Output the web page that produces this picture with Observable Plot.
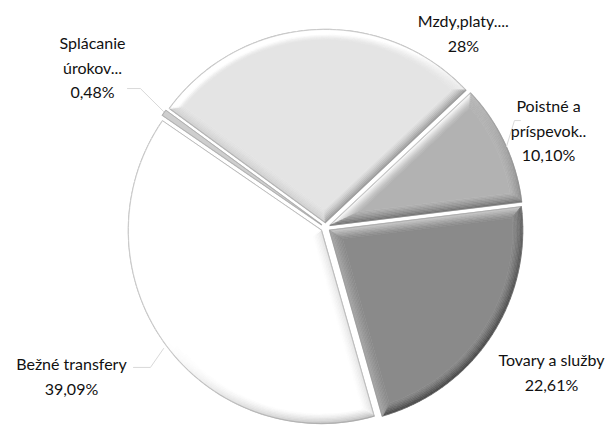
<!DOCTYPE html>
<html>
<head>
<meta charset="utf-8">
<script src="https://cdn.jsdelivr.net/npm/d3@7"></script>
<script src="https://cdn.jsdelivr.net/npm/@observablehq/plot@0.6"></script>
<style>
  body { margin: 0; background: #ffffff; }
  #chart svg { display: block; }
</style>
</head>
<body>
<div id="chart"></div>
<script>
// ---- data ----
const categories = ["Tovary a služby", "Bežné transfery", "Splácanie úrokov...", "Mzdy,platy....", "Poistné a príspevok.."];
const values = [22.61, 39.09, 0.48, 28, 10.10];
const labelTexts = ["Tovary a služby\n22,61%", "Bežné transfery\n39,09%", "Splácanie\núrokov...\n0,48%", "Mzdy,platy....\n28%", "Poistné a\npríspevok..\n10,10%"];
// label placement (bearing in degrees, distance in pie radii)
const labelBearing = [122.3, 240.0, 304.8, 35.1, 66.1];
const labelDist = [1.385, 1.52, 1.47, 1.242, 1.264];
// base gray level of each slice
const grays = [138, 255, 206, 228, 178];
const START_DEG = 83;

// ---- geometry derived from data ----
const R = 1, E = 0.026, K = 7, BW = 0.052, AMP = 70;
const L = [-0.6, 0.8];
const arcs = d3.pie().sort(null)
  .startAngle(START_DEG * Math.PI / 180)
  .endAngle(START_DEG * Math.PI / 180 + 2 * Math.PI)(values);

function ring(a, d, N) {
  const m = (a.startAngle + a.endAngle) / 2, h = (a.endAngle - a.startAngle) / 2;
  const ox = E * Math.sin(m), oy = E * Math.cos(m);
  const ad = d / Math.sin(h);
  const pts = [[ox + ad * Math.sin(m), oy + ad * Math.cos(m)]];
  const rr = R - d, dl = Math.asin(d / rr);
  const a0 = a.startAngle + dl, a1 = a.endAngle - dl;
  for (let j = 0; j <= N; j++) {
    const t = a0 + (a1 - a0) * j / N;
    pts.push([ox + rr * Math.sin(t), oy + rr * Math.cos(t)]);
  }
  return pts;
}
const grayCss = g => { const v = Math.max(0, Math.min(255, Math.round(g))); return `rgb(${v},${v},${v})`; };

const bands = [], outlines = [], cores = [];
arcs.forEach((a, i) => {
  const deg = (a.endAngle - a.startAngle) * 180 / Math.PI;
  const N = Math.max(2, Math.ceil(deg / 2));
  const outer = ring(a, 0, N);
  outer.forEach(p => outlines.push({key: "o" + i, x: p[0], y: p[1]}));
  if (deg < 5) {
    outer.forEach(p => cores.push({key: "c" + i, x: p[0], y: p[1], fill: grayCss(grays[i])}));
    return;
  }
  let prev = outer;
  for (let k = 0; k < K; k++) {
    const next = ring(a, (k + 1) * BW / K, N);
    const M = prev.length;
    for (let j = 0; j < M; j++) {
      const jn = (j + 1) % M;
      const dx = prev[jn][0] - prev[j][0], dy = prev[jn][1] - prev[j][1];
      const len = Math.hypot(dx, dy) || 1;
      const nx = -dy / len, ny = dx / len;
      const dot = nx * L[0] + ny * L[1];
      const f = Math.pow(1 - k / K, 1.3);
      const col = grayCss(grays[i] + AMP * dot * f);
      const key = `b${i}_${k}_${j}`;
      [prev[j], prev[jn], next[jn], next[j]].forEach(p => bands.push({key, x: p[0], y: p[1], fill: col}));
    }
    prev = next;
  }
  prev.forEach(p => cores.push({key: "c" + i, x: p[0], y: p[1], fill: grayCss(grays[i])}));
});

const labels = categories.map((c, i) => {
  const t = labelBearing[i] * Math.PI / 180;
  return {name: c, text: labelTexts[i], x: labelDist[i] * Math.sin(t), y: labelDist[i] * Math.cos(t)};
});

// faint leader lines (data units)
const leaders = [
  {key: "bt", x: -0.995, y: -0.725}, {key: "bt", x: -0.907, y: -0.725}, {key: "bt", x: -0.839, y: -0.627},
  {key: "sp", x: -1.026, y: 0.720}, {key: "sp", x: -0.959, y: 0.720}, {key: "sp", x: -0.839, y: 0.601},
  {key: "po", x: 1.010, y: 0.554}, {key: "po", x: 0.979, y: 0.554}, {key: "po", x: 0.938, y: 0.420}
];

// ---- chart ----
const W = 613, H = 427, CX = 325, CY = 227, RP = 193;
const chart = Plot.plot({
  width: W, height: H,
  marginTop: 0, marginBottom: 0, marginLeft: 0, marginRight: 0,
  x: {domain: [-CX / RP, (W - CX) / RP], axis: null},
  y: {domain: [(CY - H) / RP, CY / RP], axis: null},
  color: {type: "identity"},
  style: {background: "#ffffff", fontFamily: "Lato, Carlito, Calibri, sans-serif"},
  marks: [
    Plot.line(outlines, {x: "x", y: "y", z: "key", fill: "#ffffff", stroke: "#9a9a9a", strokeWidth: 1.4, strokeOpacity: 0.7, curve: "linear-closed"}),
    Plot.line(bands, {x: "x", y: "y", z: "key", fill: "fill", stroke: "fill", strokeWidth: 0.6, curve: "linear-closed"}),
    Plot.line(cores, {x: "x", y: "y", z: "key", fill: "fill", stroke: "fill", strokeWidth: 0.6, curve: "linear-closed"}),
    Plot.line(outlines, {x: "x", y: "y", z: "key", stroke: "#8a8a8a", strokeWidth: 0.6, strokeOpacity: 0.6, curve: "linear-closed"}),
    Plot.line(leaders, {x: "x", y: "y", z: "key", stroke: "#d9d9d9", strokeWidth: 1}),
    Plot.text(labels, {x: "x", y: "y", text: "text", fontSize: 16, lineHeight: 1.55, fill: "#111111"})
  ]
});
document.getElementById("chart").appendChild(chart);
</script>
</body>
</html>
